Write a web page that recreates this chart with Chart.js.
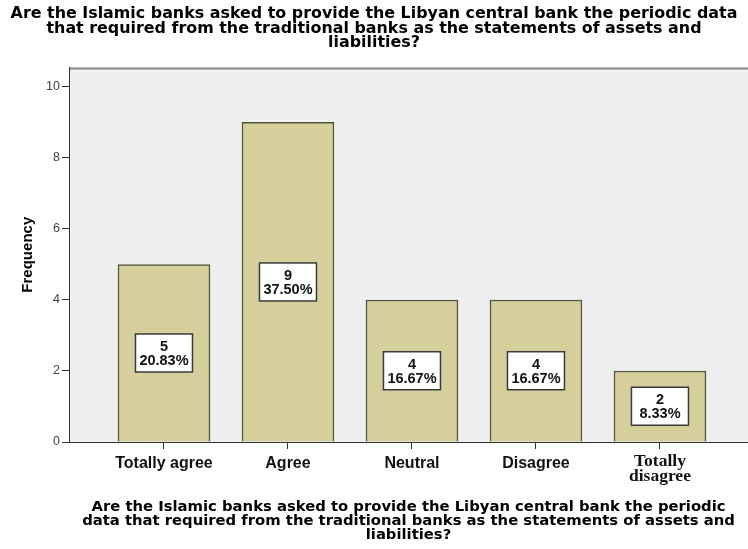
<!DOCTYPE html>
<html>
<head>
<meta charset="utf-8">
<script src="https://cdn.jsdelivr.net/npm/chart.js@4.4.0/dist/chart.umd.min.js"></script>
<style>
  html, body { margin: 0; padding: 0; background: #fff; }
  #wrap { width: 748px; height: 549px; }
</style>
</head>
<body>
<div id="wrap"><canvas id="freq"></canvas></div>
<script>
// survey answers
var categories = ['Totally agree', 'Agree', 'Neutral', 'Disagree', ['Totally', 'disagree']];
var frequency = [5, 9, 4, 4, 2];
var yTicks = [0, 2, 4, 6, 8, 10];
var question = [
    'Are the Islamic banks asked to provide the Libyan central bank the periodic data',
    'that required from the traditional banks as the statements of assets and',
    'liabilities?'
];
var axisQuestion = [
    'Are the Islamic banks asked to provide the Libyan central bank the periodic',
    'data that required from the traditional banks as the statements of assets and',
    'liabilities?'
];

var total = frequency.reduce(function (a, b) { return a + b; }, 0);

// grey plot background + top frame line
var plotBg = {
    id: 'plotBg',
    beforeDraw: function (chart) {
        var c = chart.ctx, a = chart.chartArea;
        c.save();
        c.fillStyle = '#efefef';
        c.fillRect(a.left, a.top, a.right - a.left, a.bottom - a.top);
        c.strokeStyle = '#8a8a8a';
        c.lineWidth = 2;
        c.beginPath();
        c.moveTo(a.left, a.top + 1);
        c.lineTo(a.right, a.top + 1);
        c.stroke();
        c.restore();
    }
};

// count + percent boxes in the middle of each bar
var valueBoxes = {
    id: 'valueBoxes',
    afterDatasetsDraw: function (chart) {
        var c = chart.ctx;
        var meta = chart.getDatasetMeta(0);
        c.save();
        c.font = 'bold 14.5px "Liberation Sans", Arial, sans-serif';
        c.textAlign = 'center';
        c.textBaseline = 'middle';
        meta.data.forEach(function (bar, i) {
            var v = frequency[i];
            var pct = (v / total * 100).toFixed(2) + '%';
            var cy = (bar.y + bar.base) / 2;
            var w = 57, h = 38;
            c.fillStyle = '#ffffff';
            c.fillRect(bar.x - w / 2, cy - h / 2, w, h);
            c.strokeStyle = '#3a3a3a';
            c.lineWidth = 1.5;
            c.strokeRect(bar.x - w / 2, cy - h / 2, w, h);
            c.fillStyle = '#111';
            c.fillText(String(v), bar.x, cy - 6);
            c.fillText(pct, bar.x, cy + 8);
        });
        c.restore();
    }
};

var ctx = document.getElementById('freq').getContext('2d');
var myChart = new Chart(ctx, {
    type: 'bar',
    data: {
        datasets: [{
            data: frequency.map(function (v, i) { return { x: i, y: v }; }),
            backgroundColor: '#d4cf9b',
            borderColor: '#55553f',
            borderWidth: 1.5,
            borderSkipped: 'bottom',
            barThickness: 92
        }]
    },
    plugins: [plotBg, valueBoxes],
    options: {
        responsive: true,
        maintainAspectRatio: false,
        animation: false,
        layout: { padding: 0 },
        plugins: {
            legend: { display: false },
            tooltip: { enabled: false },
            title: {
                display: true,
                text: question,
                color: '#000',
                font: { family: '"DejaVu Sans", sans-serif', size: 15.9, weight: 'bold', lineHeight: 0.91 },
                padding: { top: 7, bottom: 17 }
            }
        },
        scales: {
            x: {
                type: 'linear',
                offset: false,
                min: -0.766,
                max: 4.71,
                afterBuildTicks: function (scale) {
                    scale.ticks = categories.map(function (c, i) { return { value: i }; });
                },
                afterFit: function (scale) { scale.height = 107; },
                grid: { offset: false, drawOnChartArea: false, drawTicks: true, tickLength: 7, color: '#333', lineWidth: 1 },
                border: { display: true, color: '#333', width: 1 },
                ticks: {
                    autoSkip: false,
                    maxRotation: 0,
                    padding: 5,
                    color: '#111',
                    callback: function (v) { return categories[v]; },
                    font: function (c) {
                        if (c.index === 4) return { family: '"Liberation Serif", "Times New Roman", serif', size: 17.5, weight: 'bold', lineHeight: 0.85 };
                        return { family: '"Liberation Sans", Arial, sans-serif', size: 16, weight: 'bold' };
                    }
                },
                title: {
                    display: true,
                    text: axisQuestion,
                    color: '#000',
                    font: { family: '"DejaVu Sans", sans-serif', size: 14.8, weight: 'bold', lineHeight: 0.95 },
                    padding: { top: 0, bottom: 7 }
                }
            },
            y: {
                min: 0,
                max: 10.55,
                afterBuildTicks: function (scale) {
                    scale.ticks = yTicks.map(function (v) { return { value: v }; });
                },
                afterFit: function (scale) { scale.width = 69; },
                grid: { drawOnChartArea: false, drawTicks: true, tickLength: 7, color: '#333', lineWidth: 1 },
                border: { display: true, color: '#333', width: 1 },
                ticks: {
                    padding: 2,
                    color: '#444',
                    font: { family: '"Liberation Sans", Arial, sans-serif', size: 12.5 }
                },
                title: {
                    display: true,
                    text: 'Frequency',
                    color: '#000',
                    font: { family: '"Liberation Sans", Arial, sans-serif', size: 15, weight: 'bold' },
                    padding: { top: 19, bottom: 0 }
                }
            }
        }
    }
});
</script>
</body>
</html>
